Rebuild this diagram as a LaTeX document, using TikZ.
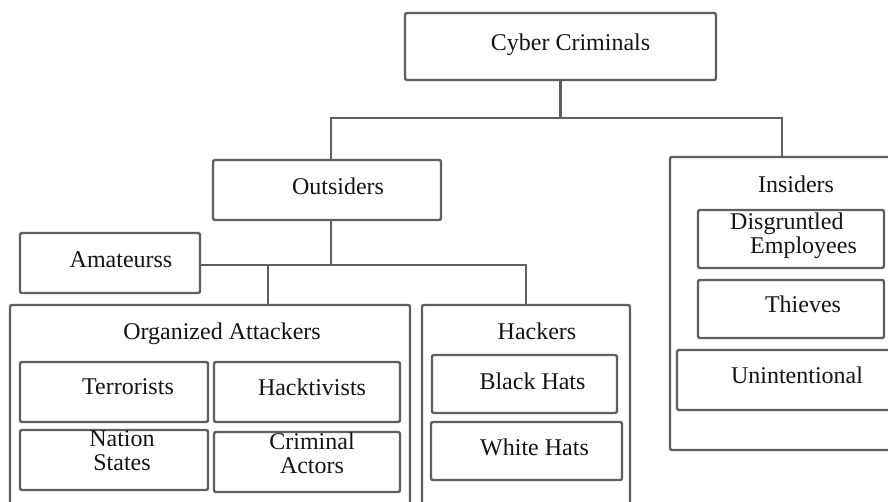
\documentclass[tikz,border=0pt]{standalone}
\usepackage{fontspec}
\setmainfont{Liberation Serif}
\definecolor{linegray}{RGB}{95,95,95}
\definecolor{textgray}{RGB}{20,20,20}
\tikzset{
  box/.style={draw=linegray, line width=1.2pt, rectangle, rounded corners=1pt, inner sep=0pt},
  txt/.style={font=\fontsize{12}{12}\selectfont, text=textgray, inner sep=0pt,
              text depth=0pt, align=center},
  wire/.style={draw=linegray, line width=1.2pt},
}
\begin{document}
\begin{tikzpicture}[x=0.5pt, y=-0.5pt]
\clip (0,0) rectangle (888,502);
\fill[white] (0,0) rectangle (888,502);

% top level
\node[box, minimum width=155.5pt, minimum height=33.5pt] (cyber) at (560.5,46.5) {};
\node[txt] (cyber-t) at ([shift={(10,-4)}]cyber.center) {Cyber Criminals};

\node[box, minimum width=114pt, minimum height=30pt] (outs) at (327,190) {};
\node[txt] (outs-t) at ([shift={(11,-4)}]outs.center) {Outsiders};

% insiders group
\node[box, minimum width=112pt, minimum height=146.5pt] (ins) at (782,303.5) {};
\node[txt] (ins-t) at (796,184) {Insiders};
\node[box, minimum width=93pt, minimum height=29pt] (disg) at (791,239) {};
\node[txt, align=left] (disg-t) at ([shift={(2.5,-6)}]disg.center) {Disgruntled\\\hspace*{10pt}Employees};
\node[box, minimum width=93pt, minimum height=29pt] (thief) at (791,309) {};
\node[txt] (thief-t) at ([shift={(12,-5)}]thief.center) {Thieves};
\node[box, minimum width=108pt, minimum height=30pt] (unint) at (785,380) {};
\node[txt] (unint-t) at ([shift={(12,-5)}]unint.center) {Unintentional};

% outsiders branch
\node[box, minimum width=90pt, minimum height=30pt] (amat) at (110,263) {};
\node[txt] (amat-t) at ([shift={(11,-3)}]amat.center) {Amateurss};

\node[box, minimum width=200pt, minimum height=107.5pt] (org) at (210,412.5) {};
\node[txt] (org-t) at (222,331) {Organized Attackers};
\node[box, minimum width=94pt, minimum height=30pt] (terr) at (114,392) {};
\node[txt] (terr-t) at ([shift={(14,-5)}]terr.center) {Terrorists};
\node[box, minimum width=93pt, minimum height=30pt] (hktv) at (307,392) {};
\node[txt] (hktv-t) at ([shift={(5,-5)}]hktv.center) {Hacktivists};
\node[box, minimum width=94pt, minimum height=30pt] (natn) at (114,460) {};
\node[txt] (natn-t) at ([shift={(8,-9)}]natn.center) {Nation\\States};
\node[box, minimum width=93pt, minimum height=30pt] (crim) at (307,462) {};
\node[txt] (crim-t) at ([shift={(5,-9)}]crim.center) {Criminal\\Actors};

\node[box, minimum width=104pt, minimum height=107.5pt] (hack) at (526,412.5) {};
\node[txt] (hack-t) at (537,331) {Hackers};
\node[box, minimum width=92.5pt, minimum height=29pt] (black) at (524.5,384) {};
\node[txt] (black-t) at ([shift={(8,-3)}]black.center) {Black Hats};
\node[box, minimum width=95.5pt, minimum height=29pt] (white) at (526.5,451) {};
\node[txt] (white-t) at ([shift={(8,-4)}]white.center) {White Hats};

% tree connectors
\coordinate (t1) at (331,118);
\coordinate (t2) at (782,118);
\draw[wire] (cyber.south) -- (cyber.south |- t1);
\draw[wire] (outs.north -| t1) -- (t1) -- (t2) -- (ins.north);

\coordinate (m1) at (331,265);
\coordinate (m2) at (268,265);
\draw[wire] (outs.south -| m1) -- (m1);
\draw[wire] (amat.east |- m1) -- (hack.north |- m1) -- (hack.north);
\draw[wire] (m2) -- (org.north -| m2);
\end{tikzpicture}
\end{document}
